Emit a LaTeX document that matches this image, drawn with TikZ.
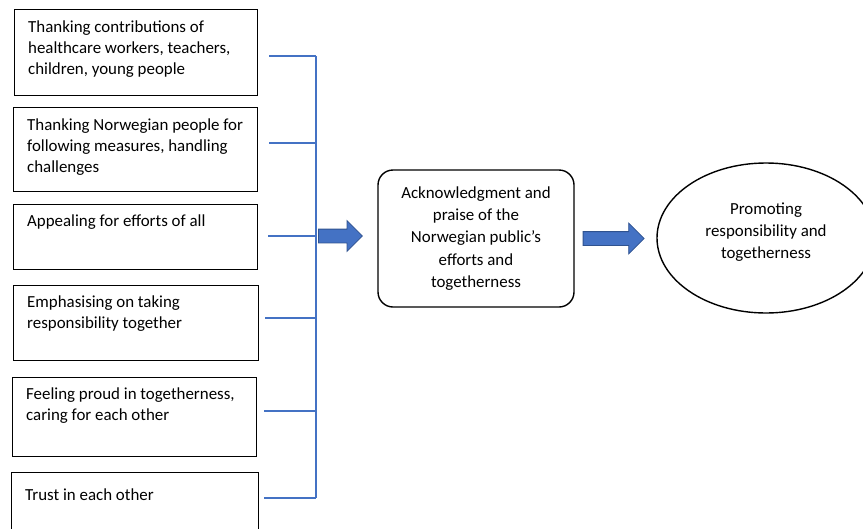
\documentclass[tikz,border=0pt]{standalone}
\usepackage{fontspec}
\setmainfont{Carlito}
\usepackage{tikz}
\usetikzlibrary{arrows.meta,positioning,shapes.geometric,shapes.arrows,calc}
\definecolor{LinkBlue}{HTML}{4472C4}
\definecolor{EdgeBlue}{HTML}{2F528F}
\tikzset{
  theme/.style={draw, line width=1.4pt, anchor=north west, inner sep=0pt},
  themetext/.style={anchor=north west, inner sep=0pt, align=left, font=\fontsize{16.9}{21}\selectfont},
  hub/.style={draw, line width=1.4pt, rounded corners=15pt, minimum width=196pt, minimum height=137pt, align=center, font=\fontsize{16.9}{22.4}\selectfont},
  goal/.style={draw, ellipse, line width=1.4pt, minimum width=218pt, minimum height=150pt, align=center, text depth=14pt, font=\fontsize{16.9}{22}\selectfont},
  brace/.style={LinkBlue, line width=2pt},
  blockarrow/.style={single arrow, draw=EdgeBlue, fill=LinkBlue, line width=0.8pt, inner xsep=0pt, inner ysep=6.5pt,
    single arrow head extend=8.5pt, single arrow head indent=0pt, anchor=tail}
}
\begin{document}
\begin{tikzpicture}[x=1pt,y=-1pt]
\useasboundingbox (0,0) rectangle (863,528);
% themes on the left
\node[theme, minimum width=243pt, minimum height=86pt] (b1) at (14,9) {};
\node[theme, minimum width=244pt, minimum height=84pt] (b2) at (13,107) {};
\node[theme, minimum width=244pt, minimum height=65pt] (b3) at (13,204) {};
\node[theme, minimum width=245pt, minimum height=75pt] (b4) at (13,285) {};
\node[theme, minimum width=244pt, minimum height=79pt] (b5) at (12,377) {};
\node[theme, minimum width=247pt, minimum height=70pt] (b6) at (11,472) {};
\node[themetext] (t1) at ($(b1.north west)+(14,12)$) {Thanking contributions of\\healthcare workers, teachers,\\children, young people};
\node[themetext] (t2) at ($(b2.north west)+(14,12)$) {Thanking Norwegian people for\\following measures, handling\\challenges};
\node[themetext] (t3) at ($(b3.north west)+(14,11)$) {Appealing for efforts of all};
\node[themetext] (t4) at ($(b4.north west)+(14,11)$) {Emphasising on taking\\responsibility together};
\node[themetext] (t5) at ($(b5.north west)+(14,11)$) {Feeling proud in togetherness,\\caring for each other};
\node[themetext] (t6) at ($(b6.north west)+(14,17)$) {Trust in each other};
% bracket
\foreach \i/\y in {1/56,2/143,3/236,4/318,5/411,6/498}
  \coordinate (j\i) at (316,\y);
\draw[brace] (j1) -- (j6);
\foreach \i/\g in {1/11,2/11,3/10,4/6,5/7,6/5}
  \draw[brace] ($(j\i -| b\i.east)+(\g,0)$) -- (j\i);
% centre and result
\node[hub] (hub) at (476,238.5) {Acknowledgment and\\praise of the\\Norwegian public’s\\efforts and\\togetherness};
\node[goal] (goal) at (766,238) {Promoting\\responsibility and\\togetherness};
\node[blockarrow, minimum height=44pt] (a1) at ($(j3)+(2,0)$) {};
\node[blockarrow, minimum height=61pt] (a2) at ($(hub.east)+(8,0)$) {};
\end{tikzpicture}
\end{document}
